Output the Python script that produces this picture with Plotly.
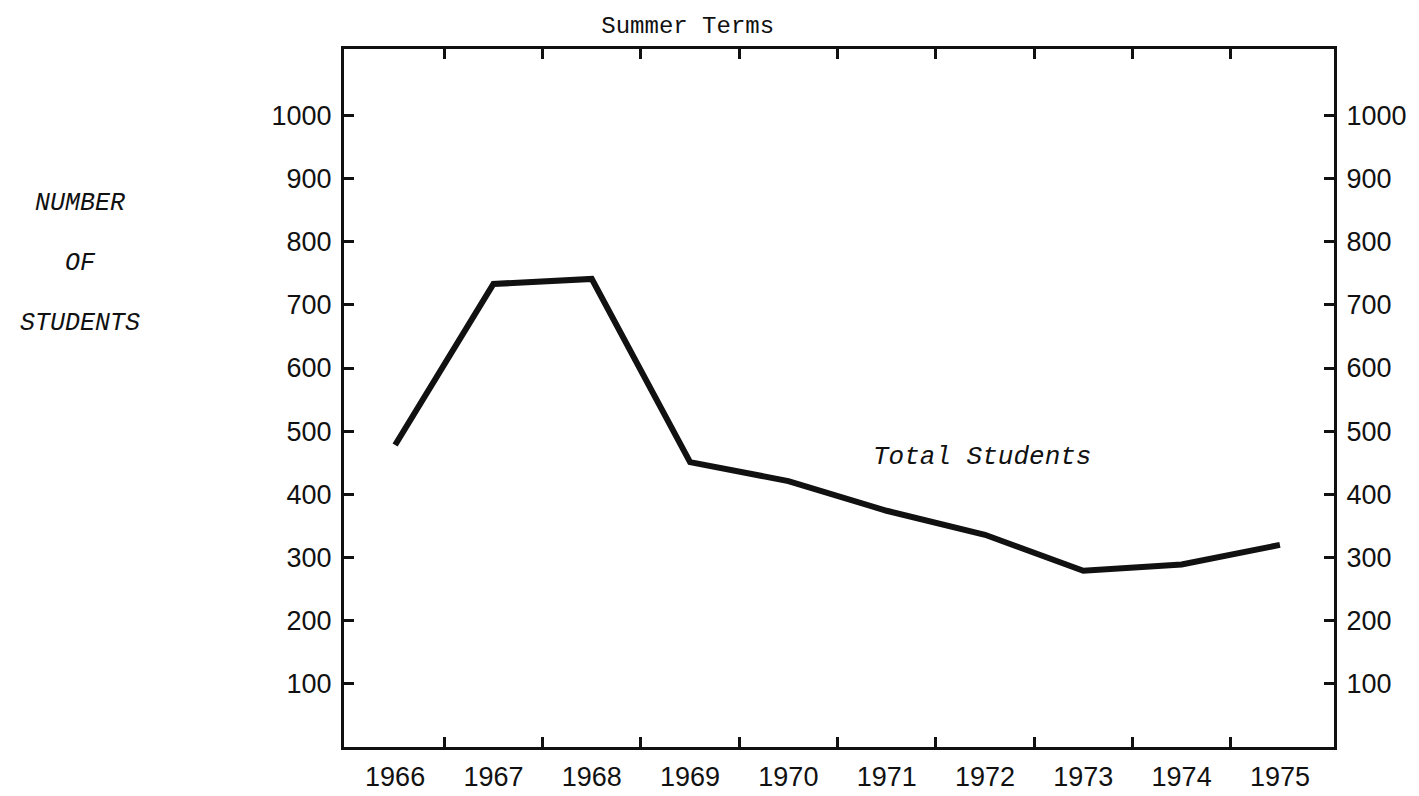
import plotly.graph_objects as go

years = [1966, 1967, 1968, 1969, 1970, 1971, 1972, 1973, 1974, 1975]
total_students = [478, 733, 741, 451, 421, 374, 336, 279, 289, 320]
year_labels = [str(y) for y in years]
boundary_ticks = [1966.5, 1967.5, 1968.5, 1969.5, 1970.5, 1971.5, 1972.5, 1973.5, 1974.5]
y_ticks = [100, 200, 300, 400, 500, 600, 700, 800, 900, 1000]
y_labels = [str(v) for v in y_ticks]
side_label = ["NUMBER", "OF", "STUDENTS"]

XR = [1965.48, 1975.55]
YR = [0, 1105]
TICKFONT = dict(family="Liberation Sans", size=27, color="#111")
INK = "#111"

fig = go.Figure()
fig.add_trace(go.Scatter(
    x=years, y=total_students, mode="lines",
    line=dict(color=INK, width=6), showlegend=False, hoverinfo="skip",
))
# helper trace for overlay axes
fig.add_trace(go.Scatter(
    x=[years[0]], y=[total_students[0]], xaxis="x2", yaxis="y2",
    mode="markers", marker=dict(opacity=0), showlegend=False, hoverinfo="skip",
))

fig.update_layout(
    width=1419, height=796,
    margin=dict(l=336, r=93, t=41, b=42),
    paper_bgcolor="white", plot_bgcolor="white",
    title=dict(text="Summer Terms", x=0.479, xref="container", xanchor="center",
               y=1 - 17 / 796, yref="container", yanchor="middle",
               font=dict(family="Liberation Mono", size=24, color=INK)),
    xaxis=dict(range=XR, tickmode="array", tickvals=years, ticktext=year_labels,
               ticks="", showline=True, linewidth=3, linecolor=INK, mirror=True,
               showgrid=False, zeroline=False, tickfont=TICKFONT, ticklabelstandoff=4),
    xaxis2=dict(range=XR, overlaying="x", side="bottom", tickmode="array",
                tickvals=boundary_ticks, ticks="inside", ticklen=10, tickwidth=2.5,
                tickcolor=INK, showticklabels=False, showline=True, linewidth=3,
                linecolor=INK, mirror="ticks", showgrid=False, zeroline=False),
    yaxis=dict(range=YR, tickmode="array", tickvals=y_ticks, ticktext=y_labels,
               ticks="inside", ticklen=10, tickwidth=2.5, tickcolor=INK,
               showline=True, linewidth=3, linecolor=INK,
               showgrid=False, zeroline=False, tickfont=TICKFONT, ticklabelstandoff=4),
    yaxis2=dict(range=YR, overlaying="y", side="right", tickmode="array",
                tickvals=y_ticks, ticktext=y_labels, ticks="inside", ticklen=10,
                tickwidth=2.5, tickcolor=INK, showline=True, linewidth=3,
                linecolor=INK, showgrid=False, zeroline=False, tickfont=TICKFONT,
                ticklabelstandoff=4),
)

fig.add_annotation(x=1971.97, y=459, xref="x", yref="y", text="Total Students",
                   showarrow=False, font=dict(family="Liberation Mono", size=26,
                                              color=INK, style="italic"))

for i, (txt, ypx) in enumerate(zip(side_label, [199, 260, 321])):
    fig.add_annotation(x=(72 - 336) / 990, y=(754 - ypx) / 713, xref="paper", yref="paper",
                       text=txt, showarrow=False, xanchor="center", yanchor="middle",
                       font=dict(family="Liberation Mono", size=25, color=INK, style="italic"))

fig.write_html("out.html")
